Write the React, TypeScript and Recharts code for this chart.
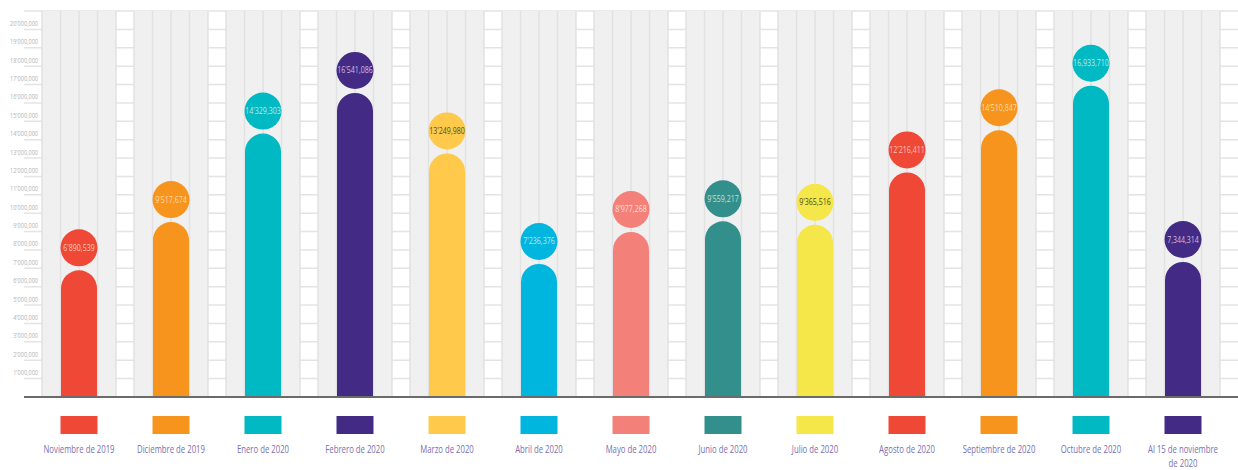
import { Bar, BarChart, CartesianGrid, Rectangle, XAxis, YAxis } from "recharts";

const months = [
  "Noviembre de 2019",
  "Diciembre de 2019",
  "Enero de 2020",
  "Febrero de 2020",
  "Marzo de 2020",
  "Abril de 2020",
  "Mayo de 2020",
  "Junio de 2020",
  "Julio de 2020",
  "Agosto de 2020",
  "Septiembre de 2020",
  "Octubre de 2020",
  "Al 15 de noviembre de 2020",
];
const amounts = [
  6890539, 9517674, 14329303, 16541086, 13249980, 7236376, 8977268, 9559217, 9365516, 12216411,
  14510847, 16933710, 7344314,
];
const amountLabels = [
  "6'890,539",
  "9'517,674",
  "14'329,303",
  "16'541,086",
  "13'249,980",
  "7'236,376",
  "8'977,268",
  "9'559,217",
  "9'365,516",
  "12'216,411",
  "14'510,847",
  "16,933,710",
  "7,344,314",
];
const colors = [
  "#ef4836", "#f7941d", "#00b9c2", "#432b85", "#ffc94b", "#00b5de", "#f4807a",
  "#338f8c", "#f5e64a", "#ef4836", "#f7941d", "#00b9c2", "#432b85",
];
const inks = [
  "#fbc7bd", "#fcdcae", "#b8ecef", "#c8bfe4", "#5b4a1f", "#b9e8f5", "#fde0dc",
  "#c1e0de", "#4f4a1e", "#fbc7bd", "#fcdcae", "#b8ecef", "#c8bfe4",
];
const yTicks = [
  1000000, 2000000, 3000000, 4000000, 5000000, 6000000, 7000000, 8000000, 9000000, 10000000,
  11000000, 12000000, 13000000, 14000000, 15000000, 16000000, 17000000, 18000000, 19000000, 20000000,
];

const FONT = '"Open Sans", "DejaVu Sans", sans-serif';

const rows = months.map((month, i) => ({ month, amount: amounts[i], label: amountLabels[i], color: colors[i], ink: inks[i] }));

const fmtMillions = (v: number) => `${Math.floor(v / 1000000)}'000,000`;

// narrow text: the source uses a condensed face, so squeeze horizontally
function Narrow({ x, y, scale, children, ...rest }: any) {
  return <text transform={`translate(${x},${y}) scale(${scale},1)`} x={0} y={0} fontFamily={FONT} {...rest}>{children}</text>;
}

function YTick(props: any) {
  const { x, y, payload } = props;
  return <Narrow x={x + 14} y={y - 3.5} scale={0.74} textAnchor="end" fontSize={7.5} fill="#b3b3b3">{fmtMillions(payload.value)}</Narrow>;
}

function LegendTick(props: any) {
  const { x, y, payload, index } = props;
  const text: string = payload.value;
  const cut = text.length > 20 ? text.lastIndexOf(" de ") : -1;
  const lines = cut > 0 ? [text.slice(0, cut), text.slice(cut + 1)] : [text];
  return <g>
    <rect x={x - 18.5} y={y + 19} width={37} height={18} fill={colors[index]} />
    {lines.map((l, i) => <Narrow key={i} x={x} y={y + 55.5 + i * 14.5} scale={0.74} textAnchor="middle" fontSize={10.5} fill="#7b6fae">{l}</Narrow>)}
  </g>;
}

function ColumnBg(props: any) {
  const { x, y, width, height } = props;
  const step = width / 4;
  return <g>
    <rect x={x} y={y} width={width} height={height} fill="#f0f0f0" />
    {[0, 1, 2, 3, 4].map((k) => <line key={k} x1={x + k * step} x2={x + k * step} y1={y} y2={y + height} stroke="#e2e2e2" strokeWidth={1.5} />)}
  </g>;
}

function Pill(props: any) {
  const { x, y, width, height, payload } = props;
  const cx = x + width / 2;
  const cy = y - 22.5;
  return <g>
    <Rectangle x={x} y={y} width={width} height={height} radius={[width / 2, width / 2, 0, 0]} fill={payload.color} />
    <circle cx={cx} cy={cy} r={18.5} fill={payload.color} />
    <Narrow x={cx} y={cy + 3} scale={0.8} textAnchor="middle" fontSize={8.8} fill={payload.ink}>{payload.label}</Narrow>
  </g>;
}

export default function App() {
  return <div style={{ position: "absolute", left: 0, top: 0, width: 1238, height: 470, background: "#fff" }}>
    <BarChart width={1238} height={470} data={rows} margin={{ top: 11, right: 0, bottom: 0, left: 0 }} barCategoryGap={0}>
      <XAxis xAxisId="main" dataKey="month" height={73} padding={{ left: 9, right: 9 }} interval={0} axisLine={{ stroke: "#6b6b6b", strokeWidth: 2 }} tickLine={false} tickSize={0} tickMargin={0} tick={<LegendTick />} />
      <XAxis xAxisId="bg" dataKey="month" hide height={0} padding={{ left: 9, right: 9 }} />
      <YAxis domain={[0, 21000000]} ticks={yTicks} interval={0} width={24} axisLine={false} tickLine={false} tickSize={0} tickMargin={0} tick={<YTick />} />
      <Bar xAxisId="bg" dataKey="amount" barSize={74} fill="none" background={(p: any) => <ColumnBg key={p.index} {...p} />} isAnimationActive={false} />
      <CartesianGrid xAxisId="main" vertical={false} stroke="#e4e4e4" strokeWidth={1.5} />
      <Bar xAxisId="main" dataKey="amount" barSize={36} shape={Pill} isAnimationActive={false} />
    </BarChart>
  </div>;
}
